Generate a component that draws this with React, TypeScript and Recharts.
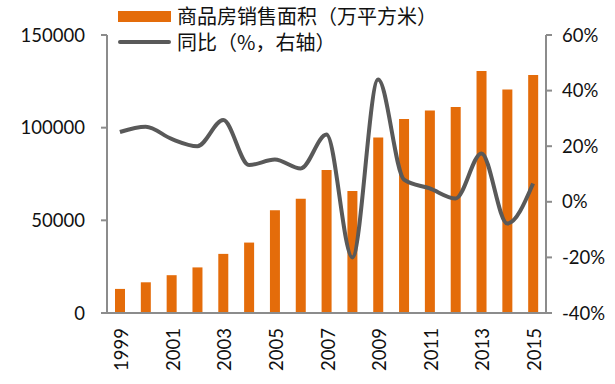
import React from 'react';
import { ComposedChart, Bar, Line, XAxis, YAxis } from 'recharts';

const years = [
  '1999', '2000', '2001', '2002', '2003', '2004', '2005', '2006', '2007',
  '2008', '2009', '2010', '2011', '2012', '2013', '2014', '2015'
];

// 商品房销售面积（万平方米）
const salesArea = [
  13000, 16570, 20400, 24600, 31900, 38000, 55400, 61700, 77200,
  65800, 94700, 104700, 109300, 111100, 130550, 120650, 128400
];

// 同比（%）
const yoy = [
  25.1, 27.0, 22.6, 20.0, 29.4, 13.2, 15.2, 12.0, 24.2,
  -20.0, 44.0, 8.0, 4.8, 1.2, 17.4, -7.8, 6.6
];

const leftTicks = [0, 50000, 100000, 150000];
const rightTicks = [-40, -20, 0, 20, 40, 60];

const ORANGE = '#E46C0A';
const GREY_LINE = '#595959';
const AXIS = '#8C8C8C';
const FONT = 'Lato, "Noto Sans", sans-serif';
const CJK = '"Noto Sans CJK SC", "Noto Sans", sans-serif';

const data = years.map((year, i) => ({
  year,
  area: salesArea[i],
  yoy: yoy[i],
}));

const YearTick = ({ x, y, payload }: any) => (
  <text
    x={x + 1}
    y={y + 7}
    transform={`rotate(-90, ${x + 1}, ${y + 7})`}
    textAnchor="end"
    dominantBaseline="central"
    fontSize={18.5}
    fontFamily={FONT}
    fill="#111"
  >
    {payload.value}
  </text>
);

const Legend = () => (
  <div
    style={{
      position: 'absolute',
      left: 118,
      top: 3,
      fontFamily: CJK,
      fontSize: 20,
      color: '#111',
    }}
  >
    <div style={{ display: 'flex', alignItems: 'center', height: 26 }}>
      <span style={{ width: 53, height: 11, background: ORANGE, marginRight: 6 }} />
      <span style={{ lineHeight: '22px' }}>商品房销售面积（万平方米）</span>
    </div>
    <div style={{ display: 'flex', alignItems: 'center', height: 26 }}>
      <span style={{ width: 53, height: 4, borderRadius: 2, background: GREY_LINE, marginRight: 6 }} />
      <span style={{ lineHeight: '22px' }}>同比（%，右轴）</span>
    </div>
  </div>
);

export default function App() {
  return (
    <div style={{ position: 'absolute', left: 0, top: 0, width: 615, height: 384, background: '#fff' }}>
      <ComposedChart
        width={615}
        height={384}
        data={data}
        margin={{ top: 35, right: 0, bottom: 0, left: 0 }}
        barCategoryGap={0}
      >
        <XAxis
          dataKey="year"
          interval={1}
          height={71}
          tickLine={false}
          axisLine={{ stroke: AXIS, strokeWidth: 2 }}
          tick={<YearTick />}
        />
        <YAxis
          yAxisId="left"
          width={107}
          domain={[0, 150000]}
          ticks={leftTicks}
          tickSize={6}
          tickMargin={16}
          axisLine={{ stroke: AXIS, strokeWidth: 2 }}
          tickLine={{ stroke: AXIS, strokeWidth: 2 }}
          tick={{ fontSize: 18.5, fontFamily: FONT, fill: '#111' }}
        />
        <YAxis
          yAxisId="right"
          orientation="right"
          width={69}
          domain={[-40, 60]}
          ticks={rightTicks}
          tickSize={6}
          tickMargin={10}
          tickFormatter={(v) => `${v}%`}
          axisLine={{ stroke: AXIS, strokeWidth: 2 }}
          tickLine={{ stroke: AXIS, strokeWidth: 2 }}
          tick={{ fontSize: 18.5, fontFamily: FONT, fill: '#111' }}
        />
        <Bar
          yAxisId="left"
          dataKey="area"
          fill={ORANGE}
          barSize={10}
          isAnimationActive={false}
        />
        <Line
          yAxisId="right"
          dataKey="yoy"
          type="monotone"
          stroke={GREY_LINE}
          strokeWidth={4}
          dot={false}
          activeDot={false}
          isAnimationActive={false}
        />
      </ComposedChart>
      <Legend />
    </div>
  );
}
